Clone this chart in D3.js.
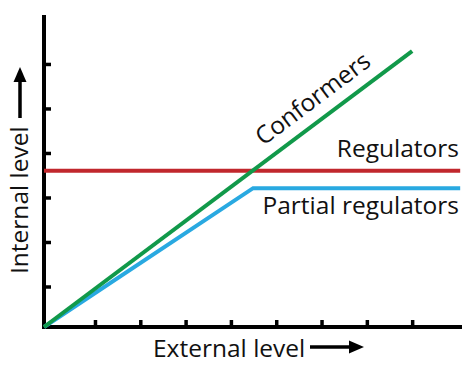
<!DOCTYPE html>
<html><head><meta charset="utf-8">
<script src="https://cdn.jsdelivr.net/npm/d3@7"></script>
<style>body{margin:0;background:#fff}svg{display:block}text{font-family:"Open Sans",sans-serif;fill:#111}</style>
</head><body><svg id="c" width="474" height="366"></svg>
<script>
// Data
const xTicks = [1, 2, 3, 4, 5, 6, 7, 8];
const yTicks = [1, 2, 3, 4, 5, 6];
const seriesNames = ["Conformers", "Regulators", "Partial regulators"];
const conformersX = [-0.125, 8.0];
const conformersY = [0.09, 6.29];
const regulatorsX = [-0.125, 9.06];
const regulatorsY = [3.6, 3.6];
const partialX = [-0.125, 4.49, 9.06];
const partialY = [0.09, 3.21, 3.21];
const xTitle = "External level";
const yTitle = "Internal level";

const svg = d3.select("#c");
const x = d3.scaleLinear().domain([-0.125, 9.1]).range([44, 462]);
const y = d3.scaleLinear().domain([0.09, 7.1]).range([327, 15]);

const colors = {Conformers: "#11994a", Regulators: "#c1272d", "Partial regulators": "#29a9e1"};

// axes
const gx = svg.append("g").attr("transform", `translate(0,${y(0.09)})`)
  .call(d3.axisBottom(x).tickValues(xTicks).tickSize(-7).tickFormat(""));
const gy = svg.append("g").attr("transform", `translate(${x(-0.125)},0)`)
  .call(d3.axisLeft(y).tickValues(yTicks).tickSize(-7).tickFormat(""));
[gx, gy].forEach(g => {
  g.select(".domain").attr("stroke", "#000").attr("stroke-width", 4);
  g.selectAll(".tick line").attr("stroke", "#000").attr("stroke-width", 3.5);
});
gx.select(".domain").attr("d", `M${x(-0.125)-2},0H${x(9.1)}`);
gy.select(".domain").attr("d", `M0,${y(0.09)+2}V${y(7.1)}`);

const line = d3.line().x(d => x(d[0])).y(d => y(d[1]));
const series = [
  ["Regulators", d3.zip(regulatorsX, regulatorsY)],
  ["Partial regulators", d3.zip(partialX, partialY)],
  ["Conformers", d3.zip(conformersX, conformersY)]
];
svg.selectAll("path.s").data(series).join("path").attr("class", "s")
  .attr("d", d => line(d[1])).attr("fill", "none")
  .attr("stroke", d => colors[d[0]]).attr("stroke-width", 4);

// labels
const fs = 24.5;
const x0 = x(conformersX[0]), y0 = y(conformersY[0]), x1 = x(conformersX[1]), y1 = y(conformersY[1]);
const ang = Math.atan2(y1 - y0, x1 - x0) * 180 / Math.PI;
const f = 0.765;
svg.append("text").attr("transform", `translate(${x0 + f*(x1-x0)},${y0 + f*(y1-y0)}) rotate(${ang})`)
  .attr("y", -13).attr("text-anchor", "middle").attr("font-size", fs).text(seriesNames[0]);
svg.append("text").attr("x", 459).attr("y", y(regulatorsY[0]) - 14).attr("text-anchor", "end")
  .attr("font-size", fs).text(seriesNames[1]);
svg.append("text").attr("x", 459).attr("y", y(partialY[2]) + 26).attr("text-anchor", "end")
  .attr("font-size", fs).text(seriesNames[2]);

// axis titles with arrows
svg.append("text").attr("x", 153).attr("y", 357).attr("font-size", fs).text(xTitle);
svg.append("line").attr("x1", 310).attr("x2", 352).attr("y1", 347).attr("y2", 347).attr("stroke", "#000").attr("stroke-width", 3.5);
svg.append("path").attr("d", "M349,340.5L364,347L349,353.5Z").attr("fill", "#000");

svg.append("text").attr("transform", "translate(28,274) rotate(-90)").attr("font-size", fs).text(yTitle);
svg.append("line").attr("x1", 20).attr("x2", 20).attr("y1", 118).attr("y2", 80).attr("stroke", "#000").attr("stroke-width", 3.5);
svg.append("path").attr("d", "M13.5,82L20,67L26.5,82Z").attr("fill", "#000");
</script></body></html>
